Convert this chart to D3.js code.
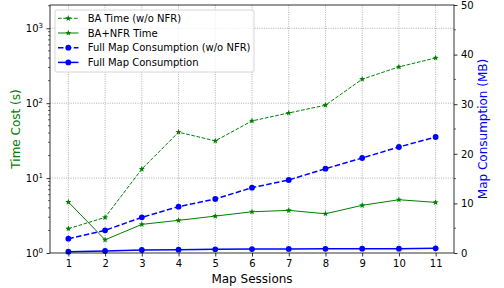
<!DOCTYPE html>
<html><head><meta charset="utf-8">
<script src="https://cdn.jsdelivr.net/npm/d3@7"></script>
<style>body{margin:0;background:#fff}svg{font-family:"DejaVu Sans",sans-serif}</style>
</head><body><svg id="c" width="504" height="288"></svg>
<script>
const sessions = [1,2,3,4,5,6,7,8,9,10,11];
const baTime = [2.11,2.99,13.2,41,31.4,58,74,94,209,305,402];
const baNfrTime = [4.79,1.50,2.41,2.73,3.11,3.55,3.71,3.34,4.33,5.14,4.74];
const mapWoNfr = [2.88,4.57,7.19,9.34,10.89,13.17,14.72,17.0,19.15,21.37,23.39];
const mapFull = [0.27,0.4,0.6,0.67,0.75,0.8,0.82,0.85,0.87,0.88,0.95];
const xTicks = [1,2,3,4,5,6,7,8,9,10,11];
const leftTicks = [0,1,2,3];
const rightTicks = [0,10,20,30,40,50];
const legendLabels = ["BA Time (w/o NFR)","BA+NFR Time","Full Map Consumption (w/o NFR)","Full Map Consumption"];

const svg = d3.select("#c");
const L=50, R=454, T=5, B=253;
const x = d3.scaleLinear().domain([0.5,11.5]).range([L,R]);
const yL = d3.scaleLog().domain([1,2046]).range([B,T]);
const yR = d3.scaleLinear().domain([0,50]).range([B,T]);
const green="#008000", blue="#0000ff";

// grid
const g = svg.append("g");
xTicks.forEach(v=>g.append("line").attr("x1",x(v)).attr("x2",x(v)).attr("y1",T).attr("y2",B)
  .attr("stroke","#9a9a9a").attr("stroke-width",0.8).attr("stroke-dasharray","1,1.3"));
leftTicks.forEach(e=>{const yy=yL(Math.pow(10,e)); if(e>0) g.append("line").attr("x1",L).attr("x2",R).attr("y1",yy).attr("y2",yy)
  .attr("stroke","#9a9a9a").attr("stroke-width",0.8).attr("stroke-dasharray","1,1.3");});

// axes
const xAxis = d3.axisBottom(x).tickValues(xTicks).tickSize(3.5).tickPadding(3.5).tickFormat(d3.format("d"));
const ax = svg.append("g").attr("transform",`translate(0,${B})`).call(xAxis);
ax.select(".domain").remove();
const leftAx = svg.append("g").attr("transform",`translate(${L},0)`)
  .call(d3.axisLeft(yL).tickValues(leftTicks.map(e=>Math.pow(10,e))).tickSize(3.5).tickPadding(3.5).tickFormat(()=>""));
leftAx.select(".domain").remove();
leftAx.selectAll(".tick text").each(function(d,i){
  const t=d3.select(this); t.text(null);
  t.append("tspan").text("10");
  t.append("tspan").attr("dy","-0.55em").attr("font-size","7px").text(leftTicks[i]);
});
// minor log ticks
const minor=[];
for(let e=0;e<4;e++) for(let k=2;k<10;k++){const v=k*Math.pow(10,e); if(v<2046) minor.push(v);}
minor.forEach(v=>svg.append("line").attr("x1",L-2).attr("x2",L).attr("y1",yL(v)).attr("y2",yL(v)).attr("stroke","#000").attr("stroke-width",0.6));
const rightAx = svg.append("g").attr("transform",`translate(${R},0)`)
  .call(d3.axisRight(yR).tickValues(rightTicks).tickSize(3.5).tickPadding(3.5).tickFormat(d3.format("d")));
rightAx.select(".domain").remove();
[5,15,25,35,45].forEach(v=>svg.append("line").attr("x1",R).attr("x2",R+2).attr("y1",yR(v)).attr("y2",yR(v)).attr("stroke","#000").attr("stroke-width",0.6));
svg.selectAll(".tick text").attr("font-size","10px").attr("fill","#000").attr("font-family","DejaVu Sans");
svg.selectAll(".tick line").attr("stroke","#000").attr("stroke-width",0.8);

// series
function star(cx,cy,r){const pts=[];for(let i=0;i<10;i++){const a=-Math.PI/2+i*Math.PI/5;const rr=i%2?r*0.42:r;pts.push([cx+rr*Math.cos(a),cy+rr*Math.sin(a)]);}return pts.map(p=>p.join(",")).join(" ");}
function series(vals,ys,color,dash,lw,marker){
  const line=d3.line().x((d,i)=>x(sessions[i])).y(d=>ys(d));
  svg.append("path").datum(vals).attr("d",line).attr("fill","none").attr("stroke",color).attr("stroke-width",lw)
    .attr("stroke-dasharray",dash||null);
  vals.forEach((v,i)=>{
    if(marker==="star") svg.append("polygon").attr("points",star(x(sessions[i]),ys(v),3.2)).attr("fill",color);
    else svg.append("circle").attr("cx",x(sessions[i])).attr("cy",ys(v)).attr("r",2.9).attr("fill",color);
  });
}
series(mapFull,yR,blue,null,1.5,"circle");
series(mapWoNfr,yR,blue,"5.5,2.4",1.5,"circle");
series(baNfrTime,yL,green,null,1,"star");
series(baTime,yL,green,"3.7,1.6",1,"star");

// frame
svg.append("rect").attr("x",L).attr("y",T).attr("width",R-L).attr("height",B-T).attr("fill","none").attr("stroke","#000").attr("stroke-width",0.8);

// labels
svg.append("text").attr("x",(L+R)/2).attr("y",283).attr("text-anchor","middle").attr("font-size","12px").text("Map Sessions");
svg.append("text").attr("transform",`translate(19.5,${(T+B)/2}) rotate(-90)`).attr("text-anchor","middle").attr("font-size","12px").attr("fill",green).text("Time Cost (s)");
svg.append("text").attr("transform",`translate(486.5,${(T+B)/2}) rotate(-90)`).attr("text-anchor","middle").attr("font-size","12px").attr("fill",blue).text("Map Consumption (MB)");

// legend
const lg = svg.append("g");
lg.append("rect").attr("x",55).attr("y",10).attr("width",199).attr("height",62).attr("rx",2)
  .attr("fill","#fff").attr("fill-opacity",0.8).attr("stroke","#cccccc").attr("stroke-width",0.8);
const legendStyles=[[green,"3.7,1.6",1,"star"],[green,null,1,"star"],[blue,"5.5,2.4",1.5,"circle"],[blue,null,1.5,"circle"]];
legendLabels.forEach((lab,i)=>{
  const yy=18.3+i*14.7; const [c,d,w,m]=legendStyles[i];
  lg.append("line").attr("x1",58).attr("x2",78.5).attr("y1",yy).attr("y2",yy).attr("stroke",c).attr("stroke-width",w).attr("stroke-dasharray",d);
  if(m==="star") lg.append("polygon").attr("points",star(68.3,yy,3.2)).attr("fill",c);
  else lg.append("circle").attr("cx",68.3).attr("cy",yy).attr("r",2.9).attr("fill",c);
  lg.append("text").attr("x",87.7).attr("y",yy+3.6).attr("font-size","10px").text(lab);
});
</script></body></html>
